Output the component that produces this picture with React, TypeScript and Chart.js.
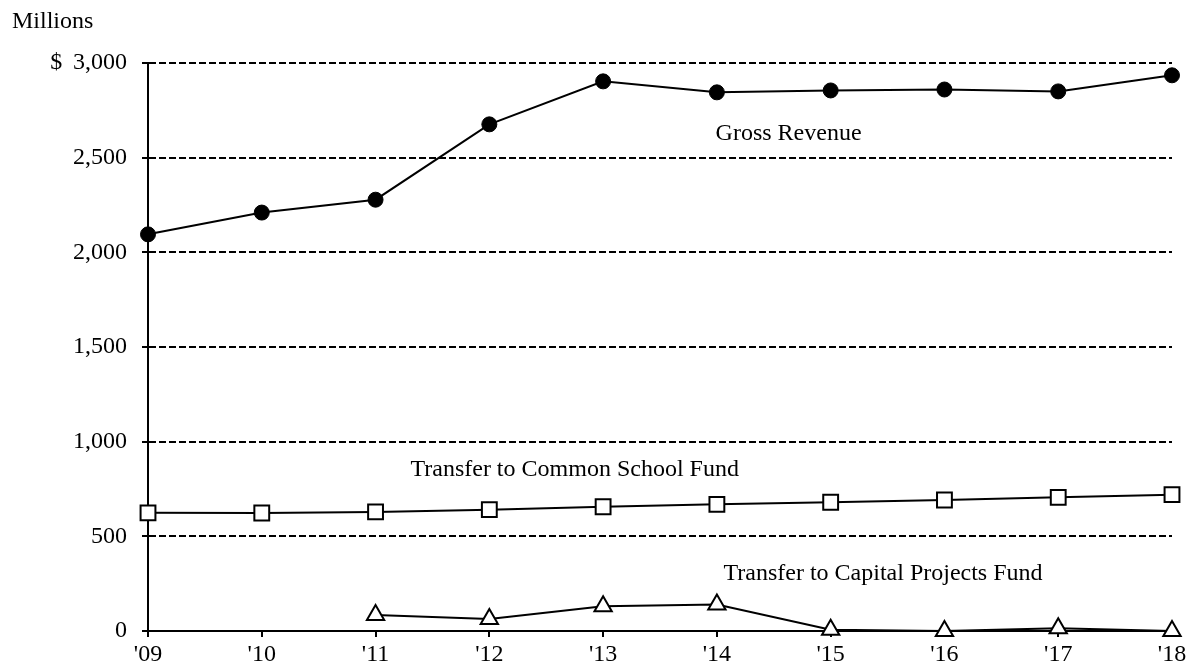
import React, { useEffect, useRef } from "react";
import { Chart, registerables } from "chart.js";

Chart.register(...registerables);

const years = ["'09", "'10", "'11", "'12", "'13", "'14", "'15", "'16", "'17", "'18"];
const grossRevenue = [2095, 2210, 2278, 2676, 2903, 2845, 2855, 2860, 2850, 2935];
const commonSchoolFund = [624, 623, 629, 641, 656, 669, 680, 692, 706, 720];
const capitalProjectsFund = [null, null, 84, 63, 131, 140, 7, 0, 14, 0];
const yTicks = [0, 500, 1000, 1500, 2000, 2500, 3000];

// annotation labels: [text, category position, value position]
const seriesLabels: [string, number, number][] = [
  ["Gross Revenue", 5.63, 2625],
  ["Transfer to Common School Fund", 3.75, 850],
  ["Transfer to Capital Projects Fund", 6.46, 305],
];
const unitLabel = "Millions";

const FONT = "'Liberation Serif', 'Times New Roman', serif";
const FS = 24;

const labelPlugin = {
  id: "labels",
  afterDraw(chart: any) {
    const ctx = chart.ctx;
    const xs = chart.scales.x;
    const ys = chart.scales.y;
    ctx.save();
    ctx.fillStyle = "#000";
    ctx.font = `${FS}px ${FONT}`;
    ctx.textBaseline = "middle";
    ctx.textAlign = "center";
    for (const [t, xi, yv] of seriesLabels) {
      ctx.fillText(t, xs.getPixelForValue(xi), ys.getPixelForValue(yv));
    }
    ctx.textAlign = "left";
    ctx.fillText(unitLabel, 12, 22);
    ctx.restore();
  },
};

export default function App() {
  const ref = useRef<HTMLCanvasElement | null>(null);
  useEffect(() => {
    if (!ref.current) return;
    const chart = new Chart(ref.current, {
      type: "line",
      data: {
        labels: years,
        datasets: [
          {
            label: "Gross Revenue",
            data: grossRevenue,
            borderColor: "#000",
            borderWidth: 2,
            pointStyle: "circle",
            pointRadius: 7.5,
            pointBackgroundColor: "#000",
            pointBorderColor: "#000",
            pointBorderWidth: 1,
            tension: 0,
          },
          {
            label: "Transfer to Common School Fund",
            data: commonSchoolFund,
            borderColor: "#000",
            borderWidth: 2,
            pointStyle: "rect",
            pointRadius: 10.5,
            pointBackgroundColor: "#fff",
            pointBorderColor: "#000",
            pointBorderWidth: 2,
            tension: 0,
          },
          {
            label: "Transfer to Capital Projects Fund",
            data: capitalProjectsFund as any,
            borderColor: "#000",
            borderWidth: 2,
            pointStyle: "triangle",
            pointRadius: 10,
            pointBackgroundColor: "#fff",
            pointBorderColor: "#000",
            pointBorderWidth: 2,
            tension: 0,
            spanGaps: false,
          },
        ],
      },
      options: {
        responsive: false,
        animation: false,
        devicePixelRatio: 1,
        clip: false as any,
        layout: { padding: { top: 63, right: 23, left: 0, bottom: 0 } },
        plugins: {
          legend: { display: false },
          tooltip: { enabled: false },
        },
        scales: {
          x: {
            type: "category",
            offset: false,
            grid: {
              drawOnChartArea: false,
              drawTicks: true,
              tickLength: 6,
              color: "#000",
              lineWidth: 2,
            },
            border: { display: true, color: "#000", width: 2 },
            ticks: {
              color: "#000",
              font: { family: FONT, size: FS },
              padding: 3,
              maxRotation: 0,
              autoSkip: false,
            },
            afterFit: (s: any) => {
              s.height = 38;
            },
          },
          y: {
            min: 0,
            max: 3000,
            afterBuildTicks: (s: any) => {
              s.ticks = yTicks.map((v) => ({ value: v }));
            },
            grid: {
              color: "#000",
              lineWidth: 2,
              tickLength: 6,
              drawTicks: true,
            },
            border: { display: true, color: "#000", width: 2, dash: [7, 3] },
            ticks: {
              color: "#000",
              font: { family: FONT, size: FS },
              padding: 15,
              callback: (v: any) => {
                const n = Number(v);
                const s = n.toLocaleString("en-US");
                return n === 3000 ? "$ \u2009" + s : s;
              },
            },
            afterFit: (s: any) => {
              s.width = 148;
            },
          },
        },
      },
      plugins: [labelPlugin],
    });
    return () => chart.destroy();
  }, []);
  return (
    <div style={{ position: "absolute", left: 0, top: 0, width: 1195, height: 669, background: "#fff" }}>
      <canvas ref={ref} width={1195} height={669} />
    </div>
  );
}
